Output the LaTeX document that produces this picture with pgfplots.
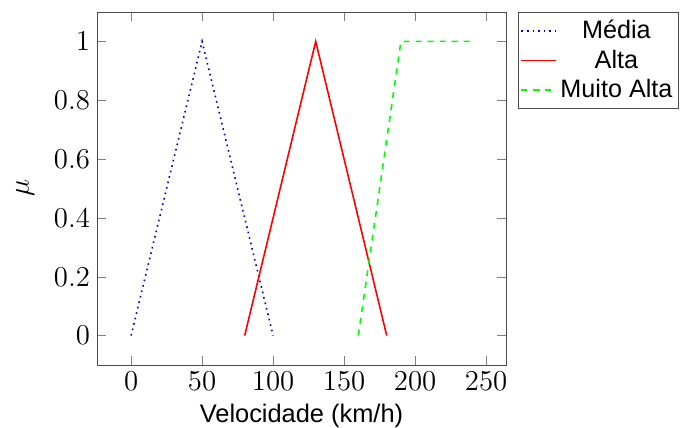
\documentclass[border=0pt]{standalone}
\usepackage{fontspec}
\setsansfont{Liberation Sans}
\usepackage{pgfplots}
\pgfplotsset{compat=1.18}
\begin{document}
\begin{tikzpicture}
\begin{axis}[
  at={(0,0)}, anchor=south west,
  scale only axis,
  width=204.5pt, height=176.5pt,
  xlabel={\sffamily\fontsize{12.7}{14}\selectfont Velocidade (km/h)},
  ylabel={\fontsize{13.5}{15}\selectfont$\mu$},
  ylabel style={yshift=3pt},
  ticklabel style={font=\fontsize{13.5}{15}\selectfont},
  xtick={0,50,100,150,200,250},
  ytick={0,0.2,0.4,0.6,0.8,1},
  legend pos=outer north east,
  legend style={font=\sffamily\fontsize{12.6}{15}\selectfont, legend cell align=center, draw=black!70, inner xsep=1pt},
  axis line style={black!70},
  tick style={black!50},
]
\addplot[blue!80!black, dotted, thick] coordinates {(0,0) (50,1) (100,0)};
\addlegendentry{Média}
\addplot[red, thick] coordinates {(80,0) (130,1) (180,0)};
\addlegendentry{Alta}
\addplot[green, dashed, thick] coordinates {(160,0) (190,1) (240,1)};
\addlegendentry{Muito Alta}
\end{axis}
\pgfresetboundingbox
\useasboundingbox (-48.5pt,-31.5pt) rectangle (291.5pt,182.5pt);
\end{tikzpicture}
\end{document}
